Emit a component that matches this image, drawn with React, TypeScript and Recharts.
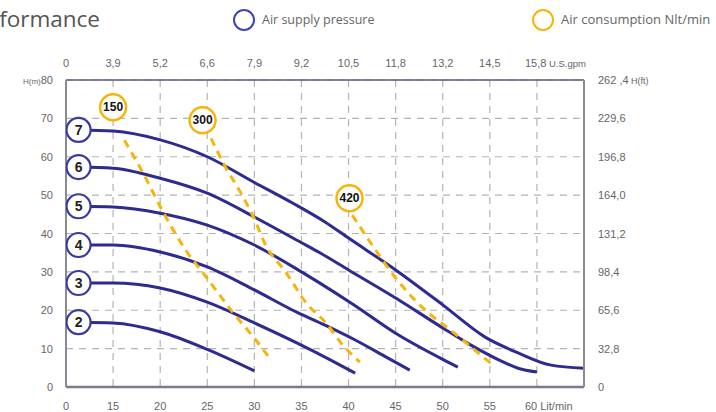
import { ComposedChart, Line, XAxis, YAxis, CartesianGrid, ReferenceDot } from 'recharts';

// axis ticks
const FLOW_TICKS = [0, 15, 20, 25, 30, 35, 40, 45, 50, 55, 60];
const GPM_LABELS = ['0', '3,9', '5,2', '6,6', '7,9', '9,2', '10,5', '11,8', '13,2', '14,5', '15,8'];
const HEAD_TICKS = [0, 10, 20, 30, 40, 50, 60, 70, 80];
const FT_LABELS = ['0', '32,8', '65,6', '98,4', '131,2', '164,0', '196,8', '229,6', '262 ,4'];
const FLOW_MAX = 65;

// air supply pressure curves (bar): flow in Lit/min, head in m
const P7_FLOW = [4, 15, 20, 25, 30, 34, 37.5, 40, 45, 50, 54.5, 58, 61.5, 65];
const P7_HEAD = [67, 66.7, 64.4, 60, 53.3, 48, 43, 38.8, 30.5, 21.4, 13, 8.9, 5.7, 4.9];
const P6_FLOW = [4, 15, 20, 25, 30, 35, 37, 40, 45, 50, 53, 56, 58, 60];
const P6_HEAD = [57.3, 57, 54.4, 50.5, 44.3, 37.6, 34.9, 30.5, 23.2, 15.4, 10.9, 7, 4.9, 3.9];
const P5_FLOW = [4, 15, 20, 25, 30, 35, 37, 40.5, 45, 50, 51.6];
const P5_HEAD = [47.1, 46.9, 45.3, 42.2, 37, 30, 27, 21.5, 14, 7.2, 5.2];
const P4_FLOW = [4, 15, 20, 25, 30, 34.5, 37.5, 40.5, 44, 46.5];
const P4_HEAD = [37, 37, 35.2, 31.3, 25.3, 19.5, 16.1, 12.5, 7.8, 4.4];
const P3_FLOW = [4, 15, 20, 25, 30, 34.5, 37.5, 40.7];
const P3_HEAD = [27.1, 27.1, 25.8, 22.1, 16.7, 11.5, 7.8, 3.6];
const P2_FLOW = [4, 15, 20, 25, 30];
const P2_HEAD = [16.9, 16.7, 14.4, 9.8, 4.2];

// air consumption lines (Nlt/min)
const A150_FLOW = [16.2, 18.2, 20.2, 22.7, 24.9, 27.7, 29.9, 31.6];
const A150_HEAD = [64.3, 55.7, 46.1, 35.7, 28.6, 19.5, 13, 7.6];
const A300_FLOW = [25.4, 27, 28.4, 29.9, 31.2, 33.4, 35.5, 37.6, 39.4, 41.2];
const A300_HEAD = [64.8, 57, 51.3, 44.3, 37, 29.7, 21.9, 16.7, 10.9, 6.5];
const A420_FLOW = [40.4, 42.5, 45.1, 47.9, 51.1, 54.2, 55.2];
const A420_HEAD = [44.8, 37, 28.1, 20.6, 14.3, 8, 6];

const AIR_TAGS = [150, 300, 420];
const AIR_TAG_FLOW = [15, 24.5, 40.1];
const AIR_TAG_HEAD = [72.9, 69.5, 49.2];

const BLUE = '#2d2b8f';
const ORANGE = '#f6b50c';
const TICK_COLOR = '#666';
const FONT = '"Liberation Sans", Arial, sans-serif';
const LEGEND_FONT = '"Open Sans", sans-serif';

// the flow axis is not linear: 0..15 takes one step, then 5 Lit/min per step
const toPos = (q: number) => (q <= 15 ? q / 15 : (q - 10) / 5);
const POS_TICKS = FLOW_TICKS.map(toPos);

const toPoints = (flow: number[], head: number[]) => flow.map((f, i) => ({ x: toPos(f), h: head[i] }));

const pressureCurves = [
  { bar: 7, data: toPoints(P7_FLOW, P7_HEAD) },
  { bar: 6, data: toPoints(P6_FLOW, P6_HEAD) },
  { bar: 5, data: toPoints(P5_FLOW, P5_HEAD) },
  { bar: 4, data: toPoints(P4_FLOW, P4_HEAD) },
  { bar: 3, data: toPoints(P3_FLOW, P3_HEAD) },
  { bar: 2, data: toPoints(P2_FLOW, P2_HEAD) },
];

const airLines = [
  toPoints(A150_FLOW, A150_HEAD),
  toPoints(A300_FLOW, A300_HEAD),
  toPoints(A420_FLOW, A420_HEAD),
];

const BottomTick = (props: any) => {
  const { x, y, payload } = props;
  const i = Math.round(payload.value);
  const last = i === FLOW_TICKS.length - 1;
  return (
    <text x={last ? x - 12 : x} y={y} dy={4} textAnchor={last ? 'start' : 'middle'} fontSize={11} fill={TICK_COLOR} fontFamily={FONT}>
      {FLOW_TICKS[i]}
      {last ? ' Lit/min' : ''}
    </text>
  );
};

const TopTick = (props: any) => {
  const { x, y, payload } = props;
  const i = Math.round(payload.value);
  const last = i === GPM_LABELS.length - 1;
  return (
    <text x={last ? x - 12 : x} y={y} dy={4} textAnchor={last ? 'start' : 'middle'} fontSize={11} fill={TICK_COLOR} fontFamily={FONT}>
      {GPM_LABELS[i]}
      {last ? <tspan fontSize={9.5}> U.S.gpm</tspan> : null}
    </text>
  );
};

const LeftTick = (props: any) => {
  const { x, y, payload } = props;
  const top = payload.value === 80;
  return (
    <text x={x} y={y} dy={4} textAnchor="end" fontSize={11} fill={TICK_COLOR} fontFamily={FONT}>
      {top ? <tspan fontSize={8}>H(m)</tspan> : null}
      {payload.value}
    </text>
  );
};

const RightTick = (props: any) => {
  const { x, y, payload } = props;
  const i = Math.round(payload.value / 10);
  const top = i === FT_LABELS.length - 1;
  return (
    <text x={x} y={y} dy={4} textAnchor="start" fontSize={11} fill={TICK_COLOR} fontFamily={FONT}>
      {FT_LABELS[i]}
      {top ? <tspan fontSize={9}> H(ft)</tspan> : null}
    </text>
  );
};

const pressureDot = (bar: number) => (props: any) => {
  const { cx, cy, index } = props;
  if (index !== 0) return <g key={`e-${bar}-${index}`} />;
  return (
    <g key={`d-${bar}`}>
      <circle cx={cx} cy={cy} r={12} fill="#fff" stroke="#3b3aa3" strokeWidth={2.2} />
      <text x={cx} y={cy} dy={5} textAnchor="middle" fontSize={14} fontWeight={700} fill="#222" fontFamily={FONT}>
        {bar}
      </text>
    </g>
  );
};

const airTagShape = (value: number) => (props: any) => (
  <g>
    <circle cx={props.cx} cy={props.cy} r={13} fill="#fff" stroke={ORANGE} strokeWidth={2.5} />
    <text x={props.cx} y={props.cy} dy={4} textAnchor="middle" fontSize={12} fontWeight={700} fill="#111" fontFamily={FONT}>
      {value}
    </text>
  </g>
);

export default function App() {
  return (
    <div style={{ position: 'absolute', left: 0, top: 0, width: 716, height: 412, background: '#fff' }}>
      <svg width={716} height={44} style={{ position: 'absolute', left: 0, top: 0 }}>
        <text x={100} y={27} textAnchor="end" fontSize={22.5} fill="#555" fontFamily={LEGEND_FONT}>
          Performance
        </text>
        <circle cx={244} cy={20} r={10} fill="none" stroke="#3c44c4" strokeWidth={2} />
        <text x={262} y={24} fontSize={12.5} fill="#666" fontFamily={LEGEND_FONT}>
          Air supply pressure
        </text>
        <circle cx={543} cy={20} r={10} fill="none" stroke={ORANGE} strokeWidth={2} />
        <text x={561} y={24} fontSize={13} fill="#666" fontFamily={LEGEND_FONT}>
          Air consumption Nlt/min
        </text>
      </svg>
      <ComposedChart width={716} height={412} margin={{ top: 50, right: 10, bottom: 5, left: 10 }}>
        <CartesianGrid stroke="#b4b4b4" strokeDasharray="7 6" strokeWidth={1.2} />
        <XAxis
          type="number"
          dataKey="x"
          domain={[0, toPos(FLOW_MAX)]}
          ticks={POS_TICKS}
          interval={0}
          height={20}
          tickSize={0}
          tickMargin={19}
          tick={<BottomTick />}
          axisLine={{ stroke: '#7d7a90', strokeWidth: 2.5 }}
          allowDataOverflow
        />
        <XAxis
          xAxisId="top"
          orientation="top"
          type="number"
          dataKey="x"
          domain={[0, toPos(FLOW_MAX)]}
          ticks={POS_TICKS}
          interval={0}
          height={30}
          tickSize={0}
          tickMargin={17}
          tick={<TopTick />}
          axisLine={{ stroke: '#5d5a78', strokeWidth: 1.5 }}
          allowDataOverflow
        />
        <YAxis
          type="number"
          domain={[0, 80]}
          ticks={HEAD_TICKS}
          interval={0}
          width={56}
          tickSize={0}
          tickMargin={13}
          tick={<LeftTick />}
          axisLine={{ stroke: '#8a8a94', strokeWidth: 2 }}
          allowDataOverflow
        />
        <YAxis
          yAxisId="ft"
          orientation="right"
          type="number"
          domain={[0, 80]}
          ticks={HEAD_TICKS}
          interval={0}
          width={122}
          tickSize={0}
          tickMargin={14}
          tick={<RightTick />}
          axisLine={{ stroke: '#8a8a94', strokeWidth: 2 }}
          allowDataOverflow
        />
        {pressureCurves.map((c) => (
          <Line
            key={`p${c.bar}`}
            data={c.data}
            dataKey="h"
            type="monotone"
            stroke={BLUE}
            strokeWidth={3}
            dot={pressureDot(c.bar)}
            activeDot={false}
            isAnimationActive={false}
          />
        ))}
        {airLines.map((d, i) => (
          <Line
            key={`a${i}`}
            data={d}
            dataKey="h"
            type="monotone"
            stroke={ORANGE}
            strokeWidth={3}
            strokeDasharray="8 6"
            dot={false}
            activeDot={false}
            isAnimationActive={false}
          />
        ))}
        {AIR_TAGS.map((v, i) => (
          <ReferenceDot
            key={`t${v}`}
            x={toPos(AIR_TAG_FLOW[i])}
            y={AIR_TAG_HEAD[i]}
            r={13}
            shape={airTagShape(v)}
          />
        ))}
      </ComposedChart>
    </div>
  );
}
